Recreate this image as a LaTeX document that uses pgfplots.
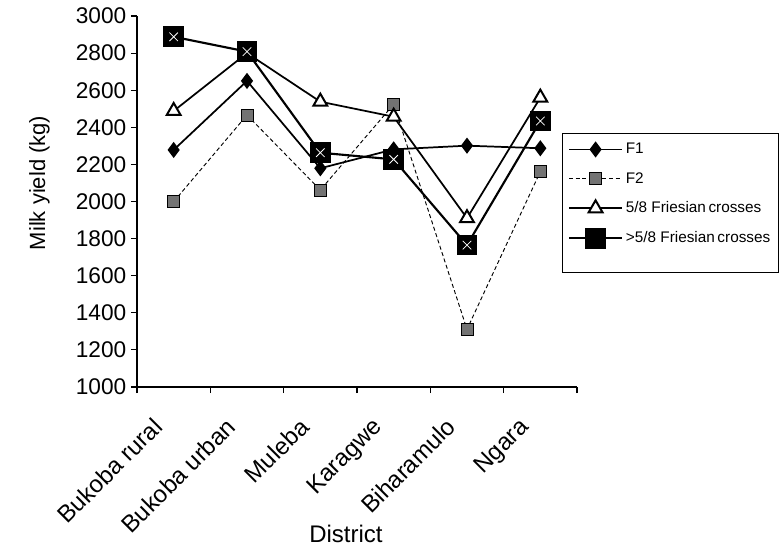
\documentclass[border=0pt]{standalone}
\usepackage{fontspec}
\setmainfont{Liberation Sans}
\usepackage{pgfplots}
\pgfplotsset{compat=1.18}

\begin{document}
\begin{tikzpicture}
  \useasboundingbox (-102.75pt,-122.25pt) rectangle (481.5pt,290.25pt);
  \begin{axis}[
      at={(0,0)}, anchor=south west,
      scale only axis,
      width=330pt, height=278.25pt,
      xmin=-0.5, xmax=5.5,
      ymin=1000, ymax=3000,
      axis x line*=bottom,
      axis y line*=left,
      axis line style={black, line width=1.4pt},
      xtick={0,...,5},
      xticklabels={Bukoba rural,Bukoba urban,Muleba,Karagwe,Biharamulo,Ngara},
      minor xtick={-0.5,0.5,...,5.5},
      ytick={1000,1200,...,3000},
      tick align=outside,
      major tick length=4.5pt,
      minor tick length=4.5pt,
      tick style={black, line width=0.8pt},
      major x tick style={draw=none},
      /pgf/number format/assume math mode=true,
      /pgf/number format/1000 sep={},
      tick label style={font=\fontsize{17}{20}\selectfont},
      xticklabel style={font=\fontsize{18}{21}\selectfont, rotate=45, anchor=north east,
        inner sep=0pt, xshift=-24pt, yshift=-0.5pt},
      xlabel={District},
      xlabel style={font=\fontsize{18}{21}\selectfont,
        at={(axis description cs:0.475,-0.42)}, anchor=base},
      ylabel={Milk yield (kg)},
      every axis y label/.style={font=\fontsize{16.5}{20}\selectfont,
        at={(axis description cs:-0.209,0.55)}, rotate=90, anchor=base},
      legend cell align=left,
      legend style={at={(axis description cs:0.966,0.684)}, anchor=north west,
        draw=black, line width=0.9pt, font=\fontsize{11.5}{14}\selectfont, row sep=8.5pt,
        inner xsep=4pt, inner ysep=5pt},
      legend image code/.code={\draw[mark repeat=2,mark phase=2,#1]
        plot coordinates {(0cm,0cm) (0.7cm,0cm) (1.4cm,0cm)};},
    ]
    % F1
    \addplot[black, line width=1.3pt, mark=diamond*, mark size=5pt,
      mark options={solid, fill=black}]
      coordinates {(0,2278) (1,2650) (2,2179) (3,2281) (4,2301) (5,2287)};
    \addlegendentry{F1}
    % F2
    \addplot[black, line width=0.7pt, densely dashed, mark=square*, mark size=4.5pt,
      mark options={solid, fill=black!55, draw=black, line width=0.6pt}]
      coordinates {(0,1999) (1,2466) (2,2062) (3,2524) (4,1311) (5,2161)};
    \addlegendentry{F2}
    % 5/8 Friesian crosses
    \addplot[black, line width=1.3pt, mark=triangle*, mark size=6pt,
      mark options={solid, fill=white, line width=1.5pt}]
      coordinates {(0,2488) (1,2800) (2,2538) (3,2457) (4,1910) (5,2560)};
    \addlegendentry{5/8 Friesian\,crosses}
    % >5/8 Friesian crosses
    \addplot[black, line width=1.6pt, mark=square*, mark size=7pt,
      mark options={solid, fill=black}]
      coordinates {(0,2888) (1,2808) (2,2263) (3,2227) (4,1765) (5,2434)};
    \addlegendentry{>5/8 Friesian\,crosses}
    \addplot[forget plot, only marks, white, mark=x, mark size=4.5pt,
      mark options={line width=0.6pt}]
      coordinates {(0,2888) (1,2808) (2,2263) (3,2227) (4,1765) (5,2434)};
    \addlegendimage{empty legend}
    \addlegendentry{}
  \end{axis}
\end{tikzpicture}
\end{document}
